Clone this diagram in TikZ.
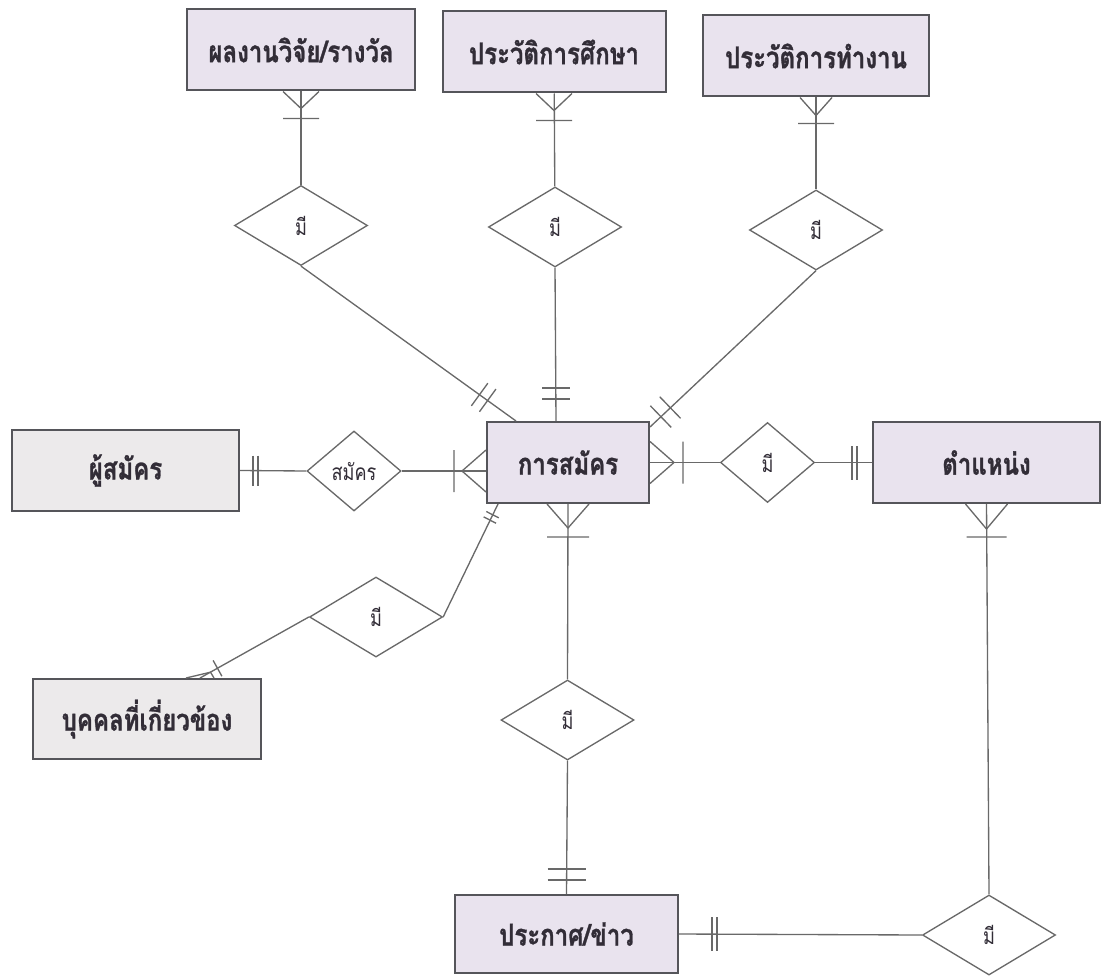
\documentclass[tikz,border=0pt]{standalone}
\usepackage{fontspec}
\usetikzlibrary{shapes.geometric,calc}
\newfontfamily\thaifont[Script=Thai,FakeStretch=0.8]{Loma}
\newfontfamily\thaibox[Script=Thai,FakeStretch=0.8,BoldFeatures={FakeBold=1}]{Loma}
\definecolor{boxfill}{RGB}{233,227,238}
\definecolor{greyfill}{RGB}{236,234,235}
\definecolor{edge}{RGB}{85,85,90}
\definecolor{linkgrey}{RGB}{105,105,105}
\definecolor{ink}{RGB}{50,45,55}
\tikzset{every picture/.style={line width=0.75pt}}

\begin{document}
\begin{tikzpicture}[x=0.75pt,y=0.75pt,yscale=-1,xscale=1,
	entity/.style={draw=edge,fill=boxfill,line width=1.5pt,minimum height=60.75pt,inner sep=0pt,font=\thaibox\bfseries\fontsize{22.5}{26}\selectfont,text=ink},
	rel/.style={draw=linkgrey,fill=white,diamond,line width=1pt,inner sep=0pt,minimum width=99.75pt,minimum height=60pt,font=\thaifont\fontsize{17}{20}\selectfont,text=ink},
	conn/.style={draw=linkgrey,line width=1pt}]
	\useasboundingbox (0,0) rectangle (1102,977);

	% Entities
	\node[entity,minimum width=171pt] (res) at (301,50) {ผลงานวิจัย/รางวัล};
	\node[entity,minimum width=167.25pt] (edu) at (554,52) {ประวัติการศึกษา};
	\node[entity,minimum width=169.5pt] (work) at (816,56) {ประวัติการทำงาน};
	\node[entity,fill=greyfill,minimum width=170.25pt] (cand) at (125.5,470.5) {ผู้สมัคร};
	\node[entity,minimum width=121.5pt] (apply) at (568,462.5) {การสมัคร};
	\node[entity,minimum width=170.25pt] (post) at (986.5,462.5) {ตำแหน่ง};
	\node[entity,fill=greyfill,minimum width=171pt,minimum height=60pt] (kin) at (147,719) {บุคคลที่เกี่ยวข้อง};
	\node[entity,minimum width=167.25pt,minimum height=58.5pt] (news) at (566.5,934) {ประกาศ/ข่าว};

	% Relationships
	\node[rel] (hasres) at (301,225.5) {มี};
	\node[rel] (hasedu) at (555,227) {มี};
	\node[rel] (haswork) at (816,230) {มี};
	\node[rel,minimum width=70.5pt] (applies) at (354,471) {สมัคร};
	\node[rel,minimum width=70.5pt] (haspost) at (767.5,462.5) {มี};
	\node[rel] (haskin) at (376,617) {มี};
	\node[rel] (hasnews) at (567.5,720) {มี};
	\node[rel] (postnews) at (989,935) {มี};

	% contact points on the boxes
	\coordinate (inL) at ($(apply.west)+(0,8.5)$);
	\coordinate (inTL) at ($(apply.north west)+(30,0)$);
	\coordinate (inT) at ($(apply.north)+(-12,0)$);
	\coordinate (inTR) at ($(apply.north east)+(0,6)$);
	\coordinate (inBL) at ($(apply.south west)+(12,0)$);
	\coordinate (kinT) at ($(kin.north)+(53,0)$);

	% Connectors
	\draw[conn] (res) -- (hasres);
	\draw[conn] (edu) -- (hasedu);
	\draw[conn] (work) -- (haswork);
	\draw[conn] (hasres.south) -- (inTL);
	\draw[conn] (hasedu.south) -- (inT);
	\draw[conn] (haswork.south) -- (inTR);
	\draw[conn] (cand.east) -- (applies.west);
	\draw[conn] (applies.east) -- (inL);
	\draw[conn] (apply.east) -- (haspost.west);
	\draw[conn] (haspost) -- (post);
	\draw[conn] (apply.south) -- (hasnews.north);
	\draw[conn] (hasnews.south) -- (news.north);
	\draw[conn] (news.east) -- (postnews.west);
	\draw[conn] (post.south) -- (postnews.north);
	\draw[conn] (inBL) -- (haskin.east);
	\draw[conn] (haskin.west) -- (kinT);

	% Crow's feet (many)
	\draw[conn,shift={(res.south)},rotate=90] (0,-18) -- (17,0) -- (0,18) (27,-18) -- (27,18);
	\draw[conn,shift={(edu.south)},rotate=90] (0,-18) -- (17,0) -- (0,18) (27,-18) -- (27,18);
	\draw[conn,shift={(work.south)},rotate=90] (0,-16) -- (18,0) -- (0,16) (26,-18) -- (26,18);
	\draw[conn,shift={(inL)},rotate=180] (0,-21) -- (24,0) -- (0,21) (32,-21) -- (32,21);
	\draw[conn,shift={(apply.east)}] (0,-21) -- (24,0) -- (0,21) (33,-21) -- (33,21);
	\draw[conn,shift={(apply.south)},rotate=90] (0,-21) -- (24,0) -- (0,21) (33,-21) -- (33,21);
	\draw[conn,shift={(post.south)},rotate=90] (0,-21) -- (25,0) -- (0,21) (33,-20) -- (33,20);
	\draw[conn,shift={(kinT)}] (-14,0) -- (10.5,-5.8) -- (14,0) (13.1,-17.6) -- (21.9,-1.8);

	% Double bars (one)
	\draw[conn,shift={(cand.east)}] (13,-15) -- (13,15) (18,-15) -- (18,15);
	\draw[conn,shift={(post.west)},rotate=180] (15,-17) -- (15,17) (20,-17) -- (20,17);
	\draw[conn,shift={(inT)},rotate=-90] (22,-14) -- (22,14) (33,-14) -- (33,14);
	\draw[conn,shift={(inTL)},rotate=-144] (35,-14) -- (35,14) (45,-14) -- (45,14);
	\draw[conn,shift={(inTR)},rotate=-44] (15,-15) -- (15,15) (28,-15) -- (28,15);
	\draw[conn,shift={(inBL)},rotate=117] (12,-7) -- (12,7) (18,-7) -- (18,7);
	\draw[conn,shift={(news.north)},rotate=-90] (14,-19) -- (14,19) (25,-19) -- (25,19);
	\draw[conn,shift={(news.east)}] (33,-17) -- (33,17) (38,-17) -- (38,17);

\end{tikzpicture}
\end{document}
